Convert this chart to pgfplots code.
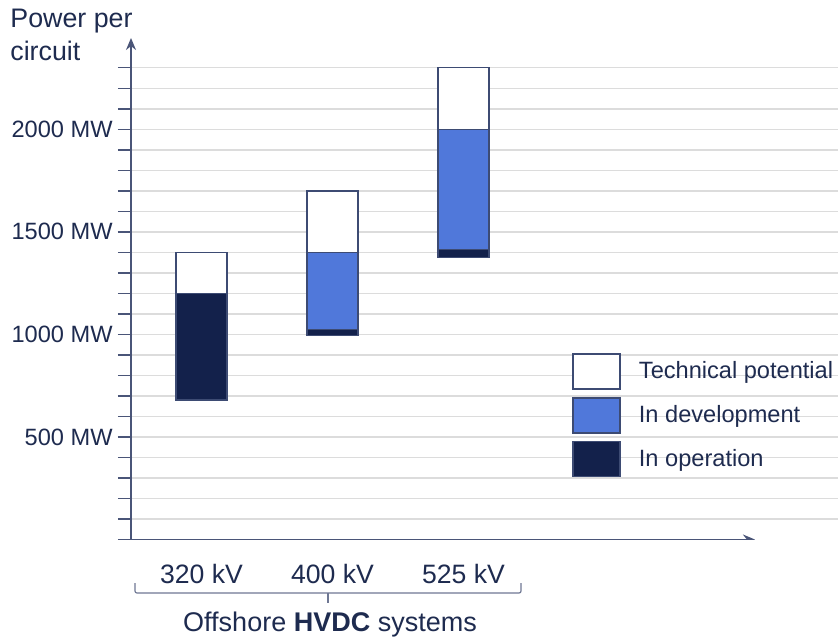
\documentclass[border=0pt]{standalone}
\usepackage{fontspec}
\setmainfont{Liberation Sans}
\usepackage{pgfplots}
\pgfplotsset{compat=1.18}
\usetikzlibrary{arrows.meta}
\definecolor{txt}{HTML}{1E2B4F}
\definecolor{axc}{HTML}{4A5578}
\definecolor{opc}{HTML}{13214B}
\definecolor{devc}{HTML}{5078DA}
\definecolor{gridc}{HTML}{DCDCDC}
\definecolor{edge}{HTML}{3D4B73}
\begin{document}
\begin{tikzpicture}
\useasboundingbox (-65.5pt,-49.75pt) rectangle (353.5pt,269.75pt);
\begin{axis}[
  at={(0pt,0pt)}, anchor=south west,
  scale only axis, width=353.5pt, height=250.75pt,
  xmin=-0.538, xmax=4.859, ymin=0, ymax=2445,
  ybar stacked, bar width=25.5pt,
  axis lines=left,
  x axis line style={draw=none},
  y axis line style={draw=axc, line width=0.75pt, -{Stealth[length=6pt,width=5pt]}},
  xtick={0,1,2}, xticklabels={320 kV, 400 kV, 525 kV},
  xtick style={draw=none},
  xticklabel style={font=\fontsize{13.3}{16}\selectfont, text=txt, anchor=north, inner sep=0pt, yshift=-5.5pt},
  ytick={500,1000,1500,2000},
  yticklabels={500 MW,1000 MW,1500 MW,2000 MW},
  minor ytick={100,200,...,2300},
  extra y ticks={0}, extra y tick labels={},
  extra y tick style={grid=none},
  tick align=outside,
  major tick length=6.5pt, minor tick length=6.5pt,
  ytick style={draw=axc, line width=0.75pt},
  yticklabel style={font=\fontsize{11.8}{14}\selectfont, text=txt, anchor=east, inner sep=0pt, xshift=-2.5pt},
  ymajorgrids, yminorgrids,
  major grid style={draw=gridc, line width=0.75pt},
  minor grid style={draw=gridc, line width=0.75pt},
  reverse legend,
  legend style={at={(0.6238,0.3719)}, anchor=north west, draw=none, fill=none, inner sep=0pt,
    row sep=3.6pt, font=\fontsize{11.8}{14}\selectfont, text=txt,
    nodes={inner sep=0pt, anchor=west},
    /tikz/every odd column/.append style={column sep=9pt}},
  legend image code/.code={\draw[#1, line width=0.75pt] (0pt,-8.75pt) rectangle (23.5pt,8.75pt);},
  legend cell align=left,
]
\addplot[fill=none, draw=none, forget plot] coordinates {(0,680) (1,995) (2,1375)};
\addplot[fill=opc, draw=edge, line width=0.75pt] coordinates {(0,520) (1,30) (2,40)};
\addplot[fill=devc, draw=edge, line width=0.75pt] coordinates {(0,0) (1,375) (2,585)};
\addplot[fill=white, draw=edge, line width=0.75pt] coordinates {(0,200) (1,300) (2,300)};
\legend{In operation, In development, Technical potential}
\draw[axc, line width=0.75pt, -{Stealth[length=6pt,width=5pt]}] (axis cs:-0.538,0) -- (axis cs:4.225,0);
\end{axis}
\node[anchor=base west, inner sep=0pt, text=txt, font=\fontsize{13.4}{16}\selectfont] at (-60.5pt,256.25pt) {Power per};
\node[anchor=base west, inner sep=0pt, text=txt, font=\fontsize{13.4}{16}\selectfont] at (-60.5pt,239.75pt) {circuit};
\draw[axc!80, line width=0.6pt, rounded corners=1pt] (2pt,-21.75pt) -- (2pt,-26.75pt) -- (195pt,-26.75pt) -- (195pt,-21.75pt);
\draw[axc!80, line width=0.6pt] (98.5pt,-26.75pt) -- (98.5pt,-31.75pt);
\node[anchor=base, inner sep=0pt, text=txt, font=\fontsize{13.5}{16}\selectfont] at (99.5pt,-46.1pt) {Offshore \textbf{HVDC} systems};
\end{tikzpicture}
\end{document}
